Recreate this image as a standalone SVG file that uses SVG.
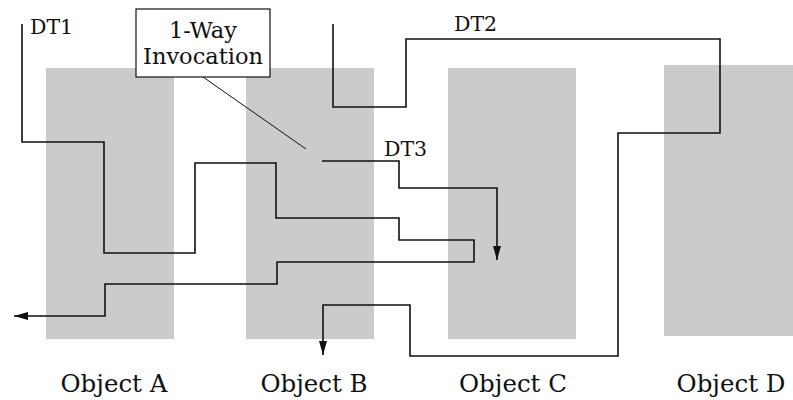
<svg xmlns="http://www.w3.org/2000/svg" width="793" height="400" viewBox="0 0 793 400">
  <style>
    .obj { fill: #cbcbcb; }
    .lbl { font-family: "DejaVu Serif", "Liberation Serif", serif; fill: #111; }
    .big { font-size: 24.5px; }
    .mid { font-size: 22.5px; }
    .small { font-size: 20.5px; }
    .wire { fill: none; stroke: #111; stroke-width: 1.6; stroke-linejoin: miter; }
    .leader { fill: none; stroke: #111; stroke-width: 1; }
  </style>
  <defs>
    <marker id="arrow" viewBox="0 0 14 8" refX="14" refY="4" markerWidth="14" markerHeight="8" markerUnits="userSpaceOnUse" orient="auto">
      <path d="M0,0 L14,4 L0,8 Z" fill="#111"/>
    </marker>
  </defs>
  <rect width="793" height="400" fill="#fff"/>

  <!-- objects -->
  <g id="object-a">
    <rect class="obj" x="46" y="68" width="128" height="271"/>
    <text class="lbl big" x="114" y="392" text-anchor="middle">Object A</text>
  </g>
  <g id="object-b">
    <rect class="obj" x="246" y="68" width="128" height="271"/>
    <text class="lbl big" x="314" y="392" text-anchor="middle">Object B</text>
  </g>
  <g id="object-c">
    <rect class="obj" x="448" y="68" width="128" height="271"/>
    <text class="lbl big" x="513" y="392" text-anchor="middle">Object C</text>
  </g>
  <g id="object-d">
    <rect class="obj" x="664" y="65" width="129" height="271"/>
    <text class="lbl big" x="731" y="392" text-anchor="middle">Object D</text>
  </g>

  <!-- threads -->
  <g id="connectors">
    <path class="wire" marker-end="url(#arrow)" d="M22,24 V142 H104 V253 H195 V163 H276 V218 H399 V240 H474 V262 H277 V284 H105 V316 H14"/>
    <path class="wire" marker-end="url(#arrow)" d="M333,24 V107 H406 V39 H720 V133 H618 V356 H410 V305 H323 V355"/>
    <path class="wire" marker-end="url(#arrow)" d="M322,161 H399 V188 H497 V260"/>
    <line class="leader" x1="203" y1="77" x2="306" y2="149"/>
  </g>

  <g id="thread-labels">
    <text class="lbl small" x="30" y="34">DT1</text>
    <text class="lbl small" x="454" y="31">DT2</text>
    <text class="lbl small" x="384" y="156">DT3</text>
  </g>

  <g id="callout">
    <rect x="136" y="9" width="134" height="68" fill="#fff" stroke="#111" stroke-width="1.2"/>
    <text class="lbl mid" x="203" y="38" text-anchor="middle">1-Way</text>
    <text class="lbl mid" x="203" y="64" text-anchor="middle">Invocation</text>
  </g>
</svg>
